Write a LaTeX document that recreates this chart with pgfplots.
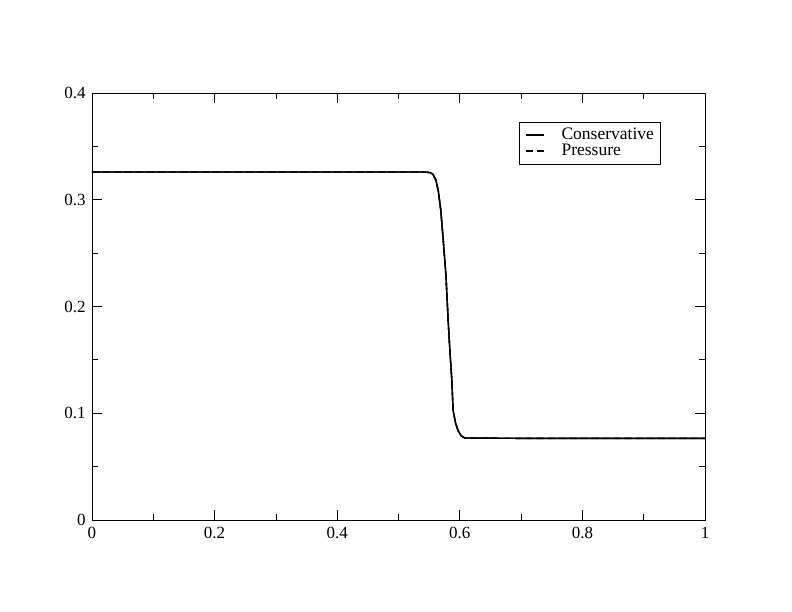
\documentclass[border=0pt]{standalone}
\usepackage{fontspec}
\setmainfont{Liberation Serif}
\usepackage{pgfplots}
\pgfplotsset{compat=1.18}

\begin{document}
\fontsize{17bp}{19bp}\selectfont
\begin{tikzpicture}
\path (-92bp,-92bp) rectangle (700bp,520bp);
\begin{axis}[
    at={(0,0)}, anchor=south west,
    scale only axis,
    width=613bp, height=427bp,
    xmin=0, xmax=1, ymin=0, ymax=0.4,
    xtick={0,0.2,...,1}, ytick={0,0.1,...,0.4},
    minor x tick num=1, minor y tick num=1,
    tick align=inside,
    major tick length=10bp, minor tick length=6bp,
    axis line style={line width=0.8pt},
    every tick/.style={black, line width=0.8pt},
    xticklabel style={/pgf/number format/fixed, yshift=-1bp},
    yticklabel style={/pgf/number format/fixed, xshift=-0.5bp},
    /pgf/number format/assume math mode=true,
    legend style={at={(0.697,0.932)}, anchor=north west, draw=black,
        line width=0.6pt, font=\fontsize{17.5bp}{17bp}\selectfont,
        inner xsep=4bp, inner ysep=4bp, row sep=-2bp},
    legend cell align=left,
    legend image code/.code={\draw[#1, line width=2pt] (2bp,0bp) -- (20bp,0bp);
        \path[draw=none] (0bp,0bp) -- (36bp,0bp);},
]
\addplot[black, line width=1.4pt] coordinates {
    (0,0.326) (0.3,0.326) (0.54,0.326) (0.551,0.3255) (0.556,0.324) (0.561,0.3185)
    (0.565,0.308) (0.569,0.290) (0.573,0.262) (0.5775,0.228) (0.581,0.187)
    (0.584,0.157) (0.587,0.131) (0.589,0.103) (0.593,0.091) (0.597,0.084)
    (0.602,0.079) (0.608,0.0768) (0.7,0.0765) (1,0.0765)
};
\addlegendentry{Conservative}
\addplot[black, line width=1.4pt, dash pattern=on 7bp off 4bp] coordinates {
    (0,0.326) (0.3,0.326) (0.54,0.326) (0.551,0.3255) (0.556,0.324) (0.561,0.3185)
    (0.565,0.308) (0.569,0.290) (0.573,0.262) (0.5775,0.228) (0.581,0.187)
    (0.584,0.157) (0.587,0.131) (0.589,0.103) (0.593,0.091) (0.597,0.084)
    (0.602,0.079) (0.608,0.0768) (0.7,0.0765) (1,0.0765)
};
\addlegendentry{Pressure}
\addplot[black, line width=1.4pt, forget plot] coordinates {
    (0,0.326) (0.3,0.326) (0.54,0.326) (0.551,0.3255) (0.556,0.324) (0.561,0.3185)
    (0.565,0.308) (0.569,0.290) (0.573,0.262) (0.5775,0.228) (0.581,0.187)
    (0.584,0.157) (0.587,0.131) (0.589,0.103) (0.593,0.091) (0.597,0.084)
    (0.602,0.079) (0.608,0.0768) (0.7,0.0765) (1,0.0765)
};
\end{axis}
\end{tikzpicture}
\end{document}
